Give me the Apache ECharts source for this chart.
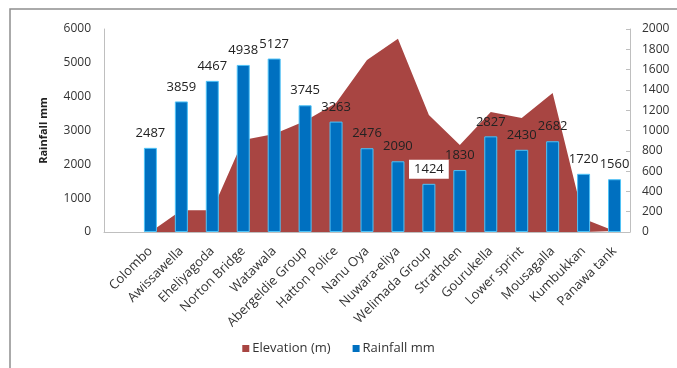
<!DOCTYPE html>
<html>
<head>
<meta charset="utf-8">
<script src="https://cdn.jsdelivr.net/npm/echarts@6/dist/echarts.min.js"></script>
<style>
  html, body { margin: 0; padding: 0; background: #fff; }
  #main { width: 677px; height: 368px; }
</style>
</head>
<body>
<div id="main"></div>
<script>
// leading empty slot keeps Colombo away from the left axis, as in the original
var categories = ['', 'Colombo', 'Awissawella', 'Eheliyagoda', 'Norton Bridge', 'Watawala',
    'Abergeldie Group', 'Hatton Police', 'Nanu Oya', 'Nuwara-eliya', 'Welimada Group',
    'Strathden', 'Gourukella', 'Lower sprint', 'Mousagalla', 'Kumbukkan', 'Panawa tank'];

// Rainfall mm (left axis)
var rainfall = ['-', 2487, 3859, 4467, 4938, 5127, 3745, 3263, 2476, 2090, 1424,
    1830, 2827, 2430, 2682, 1720, 1560];

// Elevation (m) (right axis)
var elevation = ['-', 0, 215, 215, 906, 965, 1094, 1271, 1695, 1905, 1153,
    857, 1182, 1123, 1369, 130, 10];

var leftTicks = { min: 0, max: 6000, interval: 1000 };
var rightTicks = { min: 0, max: 2000, interval: 200 };

var font = 'Open Sans';
var chart = echarts.init(document.getElementById('main'));

var rainData = rainfall.map(function (v, i) {
    if (categories[i] === 'Welimada Group') {
        // this label sits on the red area, so it has a white box
        return {
            value: v,
            label: { backgroundColor: '#fff', padding: [3, 5], distance: 5 }
        };
    }
    return v;
});

function plain(v) { return String(v); }

chart.setOption({
    animation: false,
    textStyle: { fontFamily: font },
    graphic: [{
        type: 'rect',
        shape: { x: 10, y: 9, width: 720, height: 420 },
        style: { fill: 'none', stroke: '#8e8e8e', lineWidth: 1.5 },
        silent: true
    }],
    grid: { left: 104, right: 47, top: 29, bottom: 136 },
    legend: {
        bottom: 8,
        left: 'center',
        itemWidth: 7,
        itemHeight: 7,
        itemGap: 22,
        icon: 'rect',
        textStyle: { fontSize: 13, color: '#333', fontFamily: font, padding: [0, 0, 0, -2] },
        data: [
            { name: 'Elevation (m)', itemStyle: { color: '#a84542', borderWidth: 0 } },
            { name: 'Rainfall mm', itemStyle: { color: '#0070c0', borderWidth: 0 } }
        ]
    },
    xAxis: {
        type: 'category',
        data: categories,
        axisLine: { lineStyle: { color: '#bfbfbf' } },
        axisTick: { show: false },
        axisLabel: {
            rotate: 45,
            interval: 0,
            margin: 17,
            fontSize: 13,
            color: '#333',
            fontFamily: font
        }
    },
    yAxis: [{
        type: 'value',
        min: leftTicks.min,
        max: leftTicks.max,
        interval: leftTicks.interval,
        name: 'Rainfall mm',
        nameLocation: 'middle',
        nameGap: 55,
        nameTextStyle: { fontSize: 11, fontWeight: 'bold', color: '#222', fontFamily: font },
        axisLine: { show: true, lineStyle: { color: '#bfbfbf' } },
        axisTick: { show: false },
        splitLine: { show: false },
        axisLabel: { fontSize: 12, color: '#333', margin: 13, fontFamily: font, formatter: plain }
    }, {
        type: 'value',
        min: rightTicks.min,
        max: rightTicks.max,
        interval: rightTicks.interval,
        position: 'right',
        axisLine: { show: true, lineStyle: { color: '#bfbfbf' } },
        axisTick: { show: true, inside: true, length: 4, lineStyle: { color: '#bfbfbf' } },
        splitLine: { show: false },
        axisLabel: { fontSize: 12, color: '#333', margin: 12, fontFamily: font, formatter: plain }
    }],
    series: [{
        name: 'Elevation (m)',
        type: 'line',
        yAxisIndex: 1,
        z: 1,
        data: elevation,
        symbol: 'none',
        lineStyle: { width: 0 },
        areaStyle: { color: '#a84542', opacity: 1 },
        itemStyle: { color: '#a84542' }
    }, {
        name: 'Rainfall mm',
        type: 'bar',
        yAxisIndex: 0,
        z: 5,
        data: rainData,
        barWidth: 13,
        itemStyle: { color: '#0070c0', borderColor: '#4fc3f7', borderWidth: 1 },
        label: {
            show: true,
            position: 'top',
            distance: 8,
            fontSize: 13,
            color: '#222',
            fontFamily: font
        }
    }]
});
</script>
</body>
</html>
